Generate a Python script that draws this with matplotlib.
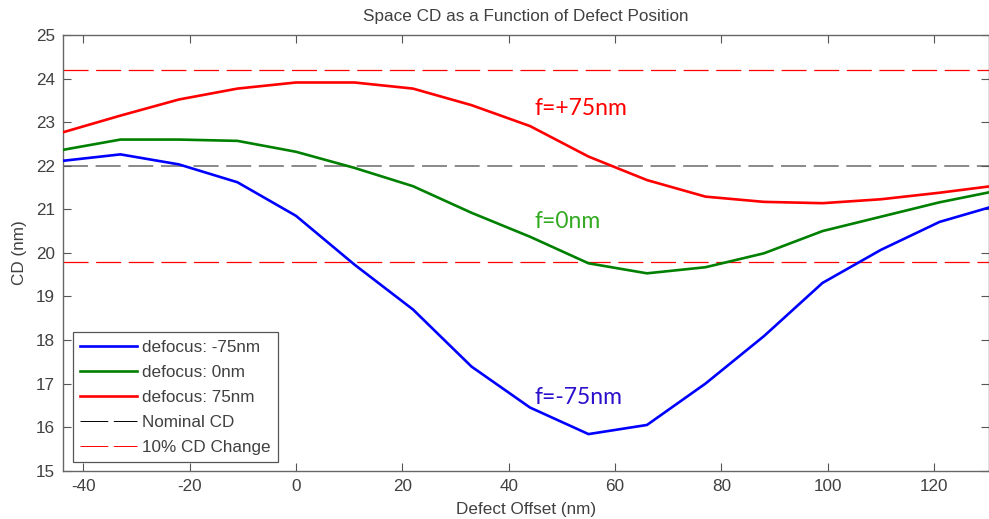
import matplotlib
matplotlib.use("Agg")
import matplotlib.pyplot as plt
from matplotlib.lines import Line2D

plt.rcParams['font.family'] = ['Liberation Sans', 'DejaVu Sans']
plt.rcParams['lines.scale_dashes'] = False
plt.rcParams['axes.unicode_minus'] = False

x_offset = [-44, -33, -22, -11, 0, 11, 22, 33, 44, 55, 66, 77, 88, 99, 110, 121, 132]
cd_minus75 = [22.11, 22.26, 22.03, 21.62, 20.85, 19.73, 18.70, 17.39, 16.45, 15.84,
              16.05, 17.00, 18.09, 19.31, 20.07, 20.71, 21.10]
cd_zero = [22.36, 22.60, 22.60, 22.57, 22.32, 21.95, 21.53, 20.92, 20.37, 19.76,
           19.53, 19.67, 19.99, 20.50, 20.83, 21.16, 21.43]
cd_plus75 = [22.76, 23.15, 23.52, 23.77, 23.91, 23.91, 23.77, 23.39, 22.91, 22.21,
             21.67, 21.29, 21.17, 21.14, 21.23, 21.38, 21.55]
nominal_cd = 22.0
cd_change_limits = [24.2, 19.8]

x_ticks = [-40, -20, 0, 20, 40, 60, 80, 100, 120]
y_ticks = [15, 16, 17, 18, 19, 20, 21, 22, 23, 24, 25]

txt_col = '#404040'
fs = 12.3
fig = plt.figure(figsize=(9.89, 5.19), dpi=100)
ax = fig.add_axes([63/989, (519-470.7)/519, 926/989, 435.7/519])

ax.axhline(nominal_cd, color='#808080', lw=1.3, dashes=(18, 5.5), zorder=1)
for v in cd_change_limits:
    ax.axhline(v, color='#ff0000', lw=0.9, dashes=(18, 5.5), zorder=1)

ax.plot(x_offset, cd_minus75, color='#0000ff', lw=1.9, zorder=3)
ax.plot(x_offset, cd_zero, color='#008000', lw=1.9, zorder=3)
ax.plot(x_offset, cd_plus75, color='#ff0000', lw=1.9, zorder=3)

ann_font = ['Lato', 'DejaVu Sans']
ax.text(44.8, 23.32, 'f=+75nm', color='#ff0000', fontsize=16.5, family=ann_font, va='center', ha='left')
ax.text(44.8, 20.72, 'f=0nm', color='#33aa22', fontsize=16.5, family=ann_font, va='center', ha='left')
ax.text(44.8, 16.67, 'f=-75nm', color='#2a10cc', fontsize=16.5, family=ann_font, va='center', ha='left')

ax.set_xlim(-43.8, 130.3)
ax.set_ylim(15, 25)
ax.set_xticks(x_ticks)
ax.set_yticks(y_ticks)
ax.tick_params(direction='in', length=6, width=0.8, colors='#555555', labelcolor=txt_col,
               labelsize=fs, top=True, right=True, pad=6)
for s in ax.spines.values():
    s.set_color('#666666')
    s.set_linewidth(1.0)

ax.set_title('Space CD as a Function of Defect Position', fontsize=fs, color=txt_col, pad=10)
ax.set_xlabel('Defect Offset (nm)', fontsize=fs, color=txt_col, labelpad=6)
ax.set_ylabel('CD (nm)', fontsize=fs, color=txt_col, labelpad=6)

handles = [
    Line2D([], [], color='#0000ff', lw=1.9),
    Line2D([], [], color='#008000', lw=1.9),
    Line2D([], [], color='#ff0000', lw=1.9),
    Line2D([], [], color='black', lw=0.7, dashes=(20, 4)),
    Line2D([], [], color='#ff0000', lw=0.7, dashes=(20, 4)),
]
labels = ['defocus: -75nm', 'defocus: 0nm', 'defocus: 75nm', 'Nominal CD', '10% CD Change']
leg = ax.legend(handles, labels, loc='lower left', bbox_to_anchor=(9.7/926, 8.4/435.7),
                borderaxespad=0, fontsize=fs, handlelength=3.3, handletextpad=0.3,
                labelspacing=0.58, fancybox=False, framealpha=1, borderpad=0.45)
leg.get_frame().set_edgecolor('#555555')
leg.get_frame().set_linewidth(0.9)
for t in leg.get_texts():
    t.set_color(txt_col)

fig.savefig('out.png', dpi=100)
